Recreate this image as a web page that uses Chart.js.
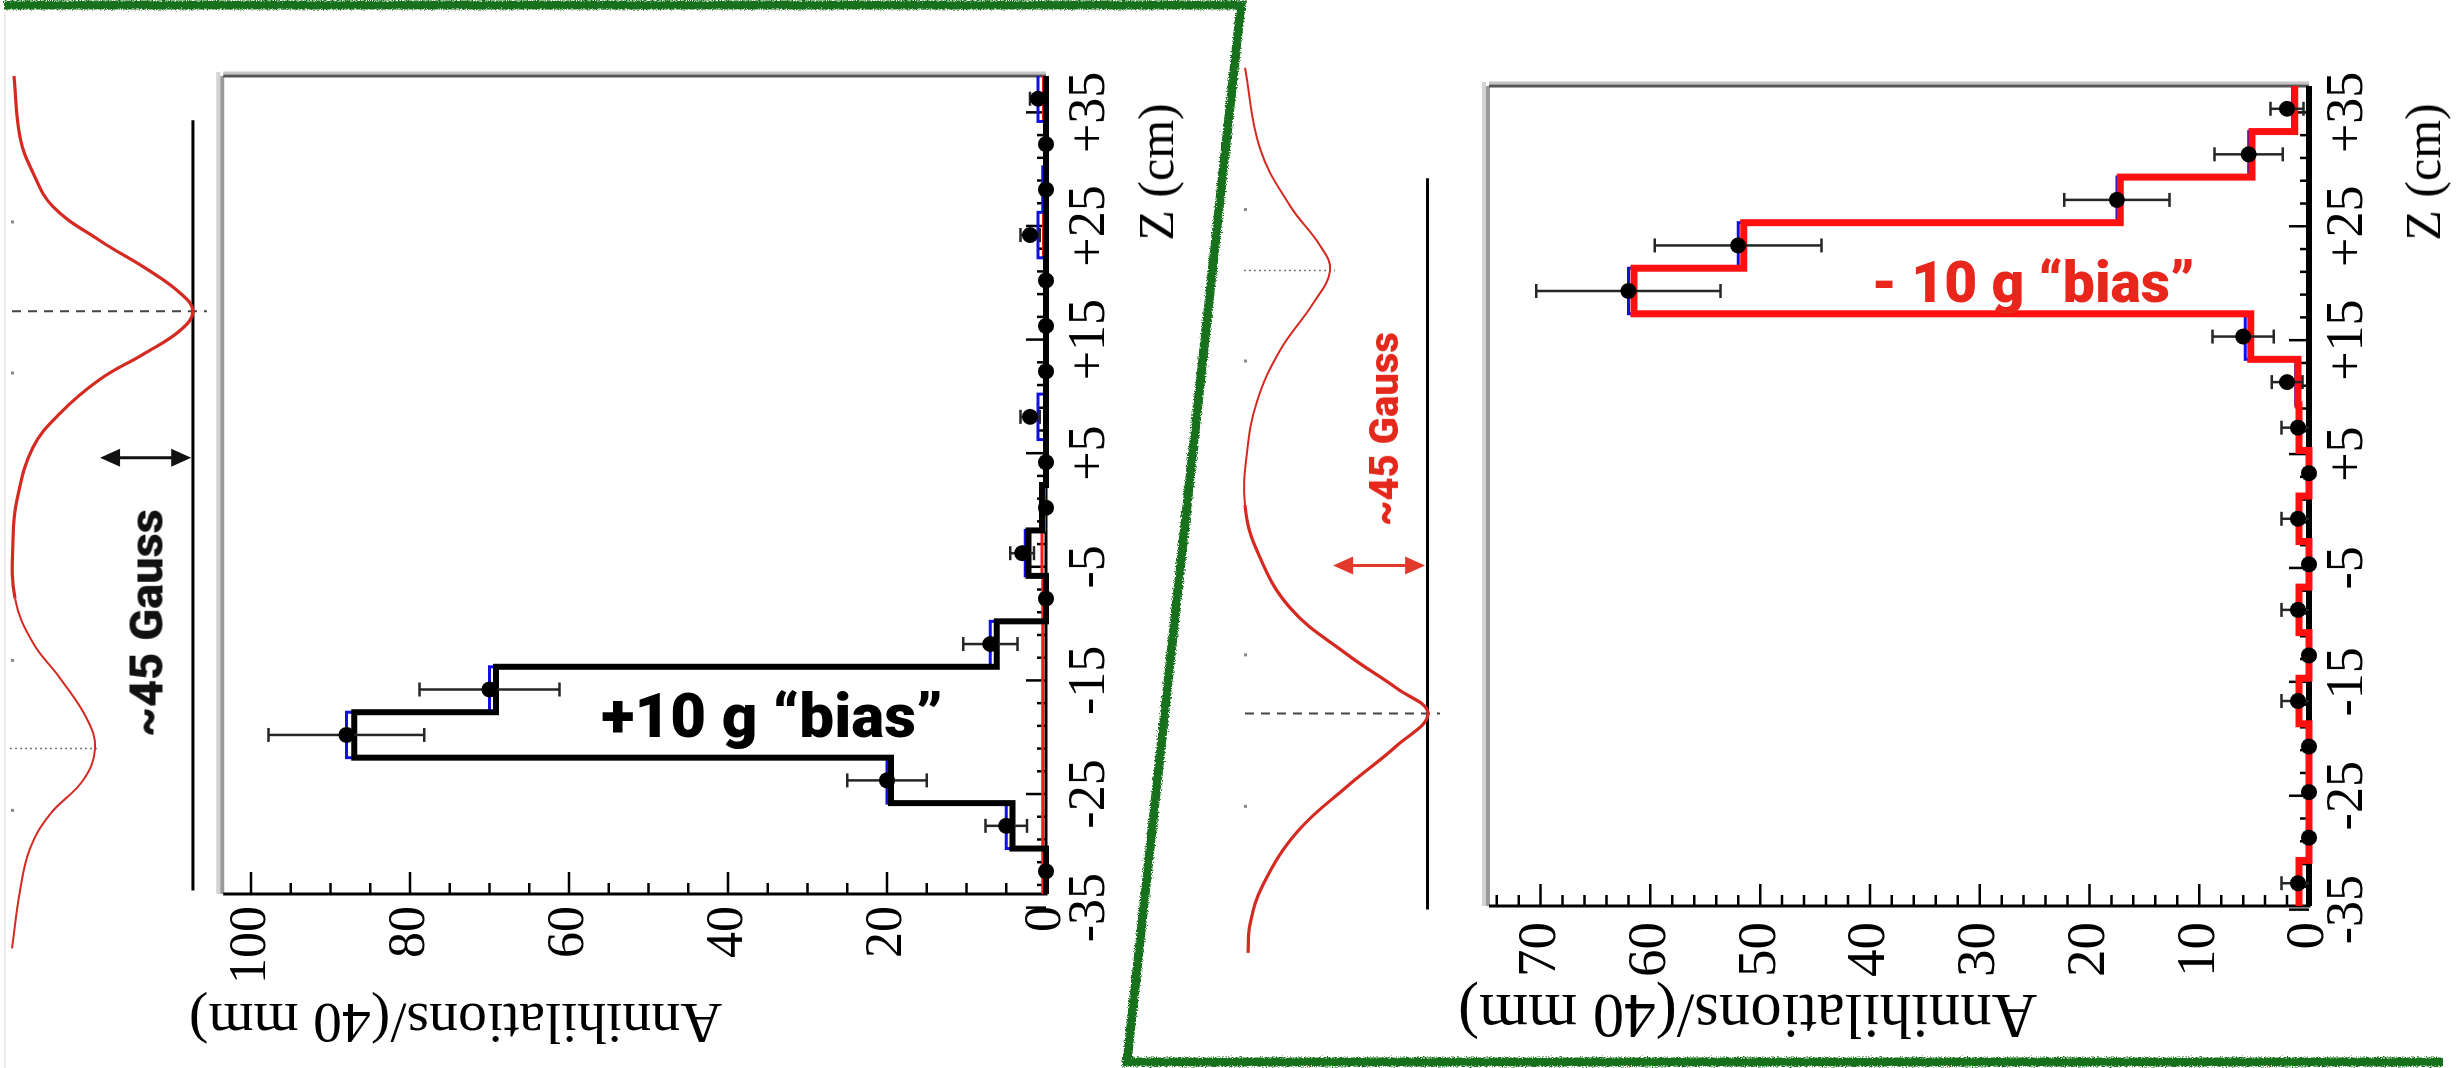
<!DOCTYPE html>
<html>
<head>
<meta charset="utf-8">
<title>Annihilation position vs. gravity bias</title>
<script src="https://cdn.jsdelivr.net/npm/chart.js@4.4.1/dist/chart.umd.min.js"></script>
<style>
  html, body { margin: 0; padding: 0; background: #fff; }
  body { width: 2464px; height: 1068px; position: relative; overflow: hidden; }
  .box { position: absolute; }
  .rot { transform: rotate(-90deg); transform-origin: 50% 50%; }
  .note { position: absolute; white-space: nowrap; line-height: 1;
          font-family: Roboto, "Liberation Sans", sans-serif; font-weight: 900; }
  .ztitle { position: absolute; white-space: nowrap; line-height: 1;
            font-family: "Liberation Serif", "Times New Roman", serif; font-size: 50px; color: #000;
            transform: translate(-50%, -50%) rotate(-90deg); }
</style>
</head>
<body>

<!-- panel outline -->
<svg width="2464" height="1068" style="position:absolute;left:0;top:0">
  <defs>
    <filter id="rough" x="-5%" y="-5%" width="110%" height="110%">
      <feTurbulence type="fractalNoise" baseFrequency="0.8" numOctaves="2" seed="3" result="n"/>
      <feDisplacementMap in="SourceGraphic" in2="n" scale="5" xChannelSelector="R" yChannelSelector="G"/>
    </filter>
  </defs>
  <line x1="5" y1="12" x2="5" y2="1068" stroke="#e4e4e4" stroke-width="1.5"/>
  <polyline points="4,5 1241,5 1127,1062 2443,1062" fill="none" stroke="#16701a"
            stroke-width="9" stroke-linejoin="miter" filter="url(#rough)"/>
</svg>

<!-- field profiles -->
<div class="box" style="left:0;top:40px;width:230px;height:940px"><canvas id="fieldPlus" width="230" height="940"></canvas></div>
<div class="box" style="left:1225px;top:40px;width:230px;height:940px"><canvas id="fieldMinus" width="230" height="940"></canvas></div>

<!-- histograms, drawn upright and turned a quarter turn -->
<div class="box rot" style="left:181px;top:19px;width:1048px;height:1050px"><canvas id="histPlus" width="1048" height="1050"></canvas></div>
<div class="box rot" style="left:1428px;top:32px;width:1048px;height:1024px"><canvas id="histMinus" width="1048" height="1024"></canvas></div>

<div class="note" style="left:146px;top:623px;font-size:47px;color:#111;transform:translate(-50%,-50%) rotate(-90deg)">~45 Gauss</div>
<div class="note" style="left:1385px;top:429px;font-size:40px;color:#e5281c;transform:translate(-50%,-50%) rotate(-90deg)">~45 Gauss</div>
<div class="note" style="left:772px;top:716px;font-size:62px;color:#000;transform:translate(-50%,-50%)">+10 g “bias”</div>
<div class="note" style="left:2033px;top:282px;font-size:57px;color:#e8261c;transform:translate(-50%,-50%)">- 10 g “bias”</div>
<div class="ztitle" style="left:1156px;top:172px">Z (cm)</div>
<div class="ztitle" style="left:2423px;top:172px">Z (cm)</div>

<script>
// ---- binning along Z (cm): 40 mm bins ----
const zBinCenters = [-34, -30, -26, -22, -18, -14, -10, -6, -2, 2, 6, 10, 14, 18, 22, 26, 30, 34];
const BIN_HALF = 2;

// ---- +10 g bias ----
const plusCounts = [0, 5, 20, 88, 70, 7, 0, 3, 0, 0, 2, 0, 0, 0, 2, 0, 0, 1];
const plusErrors = [0, 2.6, 5, 9.8, 8.8, 3.4, 0, 1.5, 0, 0, 1.2, 0, 0, 0, 1.2, 0, 0, 1];
const plusBlack  = [0, 4.2, 19.5, 87, 69.2, 6.2, 0, 2.2, 0.5, 0, 0, 0, 0, 0, 0, 0, 0, 0];
const plusBlue   = [0, 5, 20, 88, 70, 7, 0, 2.6, 0.6, 0, 1, 0, 0, 0, 1, 0.4, 0, 1];
const plusRed    = [0.4, 0.4, 0.4, 0.4, 0.4, 0.4, 0.4, 0.5, 0.2, 0, 0, 0, 0, 0, 0.3, 0, 0, 0.3];

// ---- -10 g bias ----
const minusCounts = [1, 0, 0, 0, 1, 0, 1, 0, 1, 0, 1, 2, 6, 62, 52, 17.5, 5.5, 2];
const minusErrors = [1.5, 0, 0, 0, 1.5, 0, 1.5, 0, 1.5, 0, 1.5, 1.4, 2.8, 8.4, 7.6, 4.8, 3.1, 1.5];
const minusRed    = [0.9, 0, 0, 0, 0.9, 0, 0.9, 0, 0.9, 0, 0.9, 1.0, 5.3, 61.5, 51.5, 17.2, 5.2, 1.3];
const minusBlue   = [1, 0, 0, 0, 1, 0, 1, 0, 1, 0, 1, 1.2, 5.8, 62, 52, 17.5, 5.5, 1.5];
const minusBlack  = [0, 0, 0, 0, 0, 0, 0, 0, 0, 0, 0, 0, 0, 0, 0, 0, 0, 0];

// ---- axis ticks ----
const zTickValues = [-35, -25, -15, -5, 5, 15, 25, 35];
const zTickLabels = ['-35', '-25', '-15', '-5', '+5', '+15', '+25', '+35'];
const plusCountTicks = [0, 20, 40, 60, 80, 100];
const minusCountTicks = [0, 10, 20, 30, 40, 50, 60, 70];

// ---- on-axis field profile: Z (cm) and field (G) ----
const fieldPlusZ  = [36.0, 30.6, 27.5, 24.5, 21.5, 19.0, 16.9, 15.3, 13.6, 11.5, 9.3, 6.3, 3.3, -1.3, -4.6, -10.0, -13.9, -17.0, -20.6, -23.2, -26.0, -29.0, -32.0, -35.7, -40.8];
const fieldPlusB  = [0.9, 3.7, 9.6, 18.8, 40.4, 61.9, 77.1, 83.0, 77.1, 60.1, 40.4, 22.0, 9.6, 2.3, 0.5, 1.4, 9.6, 22.0, 34.4, 38.1, 32.6, 17.4, 8.3, 3.7, 0];
const fieldMinusZ = [37.6, 30.5, 25.5, 22.0, 19.8, 16.9, 12.8, 8.3, 3.8, -0.8, -4.8, -9.8, -13.9, -16.9, -19.1, -21.9, -25.5, -29.5, -34.1, -37.6, -40.1];
const fieldMinusB = [0, 6.9, 20.6, 34.4, 39.0, 31.2, 16.1, 5.5, 0.9, 0, 5.5, 20.6, 46.8, 69.7, 83.9, 69.7, 46.8, 23.9, 8.3, 2.3, 1.4];

const COUNT_TITLE = 'Annihilations/(40 mm)';

// ---------------------------------------------------------------------------
const SERIF = "'Liberation Serif', 'Times New Roman', serif";

// histogram outline: each bin's value is held from its left edge to its right edge
function stepPoints(values) {
  const pts = values.map((v, i) => ({ x: zBinCenters[i] - BIN_HALF, y: v }));
  pts.push({ x: zBinCenters[zBinCenters.length - 1] + BIN_HALF, y: values[values.length - 1] });
  return pts;
}
function histDataset(values, color, width) {
  return { data: stepPoints(values), borderColor: color, borderWidth: width, stepped: 'before',
           pointRadius: 0, fill: false, tension: 0, clip: 8 };
}
function markerDataset(values, errors) {
  return { data: values.map((v, i) => ({ x: zBinCenters[i], y: v })), errors,
           showLine: false, pointRadius: 8, pointBackgroundColor: '#000', pointBorderWidth: 0, clip: 14 };
}

// frame, axis lines and inward tick marks
const histFrame = {
  id: 'histFrame',
  beforeDatasetsDraw(chart, args, o) {
    const { ctx, chartArea: a, scales: { x, y } } = chart;
    ctx.save();
    ctx.lineCap = 'butt';
    // far sides of the frame
    ctx.strokeStyle = '#d4d4d4'; ctx.lineWidth = 4;
    ctx.beginPath(); ctx.moveTo(a.left, a.top - 5); ctx.lineTo(a.right + 4, a.top - 5); ctx.stroke();
    ctx.strokeStyle = '#c4c4c4'; ctx.lineWidth = 3;
    ctx.beginPath(); ctx.moveTo(a.right + 3, a.top); ctx.lineTo(a.right + 3, a.bottom); ctx.stroke();
    ctx.strokeStyle = '#9a9a9a'; ctx.lineWidth = 4;
    ctx.beginPath(); ctx.moveTo(a.left, a.top - 1); ctx.lineTo(a.right, a.top - 1); ctx.stroke();
    ctx.strokeStyle = '#555'; ctx.lineWidth = 3;
    ctx.beginPath(); ctx.moveTo(a.right, a.top); ctx.lineTo(a.right, a.bottom); ctx.stroke();

    ctx.strokeStyle = '#000'; ctx.lineWidth = 2.5;
    ctx.beginPath();
    // count axis ticks
    const nMinor = Math.floor(y.max / o.minorY);
    for (let k = 0; k <= nMinor; k++) {
      const v = k * o.minorY;
      const p = y.getPixelForValue(v);
      const major = v % o.majorY === 0;
      ctx.moveTo(a.left, p); ctx.lineTo(a.left + (major ? 22 : 11), p);
    }
    // Z axis ticks
    for (let z = -35; z <= 35; z += 2) {
      const p = x.getPixelForValue(z) + o.zShift;
      const major = (z + 35) % 10 === 0;
      ctx.moveTo(p, a.bottom); ctx.lineTo(p, a.bottom - (major ? 20 : 9));
    }
    ctx.stroke();
    // axis lines
    ctx.lineWidth = 3;
    ctx.beginPath();
    ctx.moveTo(a.left, a.top); ctx.lineTo(a.left, a.bottom); ctx.lineTo(a.right, a.bottom);
    ctx.stroke();
    ctx.restore();
  },
  // count-axis title, end of the text placed at a fixed point beside the frame
  afterDraw(chart, args, o) {
    const { ctx } = chart;
    ctx.save();
    ctx.translate(o.titleU, o.titleV);
    ctx.rotate(-Math.PI / 2);
    ctx.font = `${o.titleSize}px ${SERIF}`;
    ctx.fillStyle = '#000';
    ctx.textAlign = 'right';
    ctx.textBaseline = 'middle';
    ctx.fillText(COUNT_TITLE, 0, 0);
    ctx.restore();
  }
};

// count error bars, drawn just below the markers
const errorBars = {
  id: 'errorBars',
  beforeDatasetDraw(chart, args) {
    const ds = chart.data.datasets[args.index];
    if (!ds.errors) return;
    const { ctx, scales: { x, y } } = chart;
    ctx.save();
    ctx.strokeStyle = '#262626'; ctx.lineWidth = 2.5;
    ds.data.forEach((p, i) => {
      const e = ds.errors[i];
      if (!e) return;
      const px = x.getPixelForValue(p.x);
      const lo = y.getPixelForValue(Math.max(0, p.y - e));
      const hi = y.getPixelForValue(p.y + e);
      ctx.beginPath();
      ctx.moveTo(px, lo); ctx.lineTo(px, hi);
      ctx.moveTo(px - 7, hi); ctx.lineTo(px + 7, hi);
      if (p.y - e > 0) { ctx.moveTo(px - 7, lo); ctx.lineTo(px + 7, lo); }
      ctx.stroke();
    });
    ctx.restore();
  }
};

function makeHist(id, cfg) {
  return new Chart(document.getElementById(id), {
    type: 'line',
    data: { datasets: cfg.datasets },
    options: {
      responsive: false, animation: false, devicePixelRatio: 1, events: [],
      layout: { padding: { top: cfg.padTop, right: cfg.padRight, left: 0, bottom: 0 } },
      plugins: { legend: { display: false }, tooltip: { enabled: false },
                 histFrame: { minorY: cfg.minorY, majorY: cfg.majorY, zShift: cfg.zShift,
                              titleU: cfg.titleU, titleV: cfg.titleV, titleSize: cfg.titleFont } },
      scales: {
        x: {
          type: 'linear', min: -36, max: 36,
          grid: { display: false, drawTicks: false }, border: { display: false },
          afterBuildTicks: s => { s.ticks = zTickValues.map(v => ({ value: v })); },
          afterFit: s => { s.height = cfg.xAxisHeight; },
          ticks: { autoSkip: false, maxRotation: 0, minRotation: 0, padding: cfg.zPad,
                   labelOffset: cfg.zShift, color: '#000', font: { family: SERIF, size: 52 },
                   callback: (v, i) => zTickLabels[i] }
        },
        y: {
          type: 'linear', min: 0, max: cfg.yMax,
          grid: { display: false, drawTicks: false }, border: { display: false },
          afterBuildTicks: s => { s.ticks = cfg.yTicks.map(v => ({ value: v })); },
          afterFit: s => { s.width = cfg.yAxisWidth; },
          ticks: { padding: cfg.yPad, color: '#000', font: { family: SERIF, size: cfg.yFont },
                   callback: v => String(v) }
        }
      }
    },
    plugins: [histFrame, errorBars]
  });
}

makeHist('histPlus', {
  datasets: [markerDataset(plusCounts, plusErrors),
             histDataset(plusBlack, '#000', 6),
             histDataset(plusBlue, '#1010e0', 3),
             histDataset(plusRed, '#ff1a1a', 3)],
  padTop: 30, padRight: 56, xAxisHeight: 184, yAxisWidth: 174,
  yMax: 103.5, yTicks: plusCountTicks, minorY: 5, majorY: 20,
  zShift: -25, zPad: 13, yPad: 12, yFont: 52,
  titleFont: 58, titleU: 49, titleV: 9
});

makeHist('histMinus', {
  datasets: [markerDataset(minusCounts, minusErrors),
             histDataset(minusRed, '#ff1010', 7),
             histDataset(minusBlue, '#1010e0', 3),
             histDataset(minusBlack, '#000', 6)],
  padTop: 33, padRight: 66, xAxisHeight: 155, yAxisWidth: 162,
  yMax: 74.7, yTicks: minusCountTicks, minorY: 2, majorY: 10,
  zShift: -15, zPad: 8, yPad: 16, yFont: 55,
  titleFont: 63, titleU: 56, titleV: 18
});

// ---- field profile panels ----
function doubleArrow(ctx, x0, x1, yy, color) {
  const L = 20, h = 9;
  ctx.save();
  ctx.strokeStyle = color; ctx.fillStyle = color; ctx.lineWidth = 3;
  ctx.beginPath(); ctx.moveTo(x0 + L * 0.8, yy); ctx.lineTo(x1 - L * 0.8, yy); ctx.stroke();
  ctx.beginPath(); ctx.moveTo(x0, yy); ctx.lineTo(x0 + L, yy - h); ctx.lineTo(x0 + L, yy + h); ctx.closePath(); ctx.fill();
  ctx.beginPath(); ctx.moveTo(x1, yy); ctx.lineTo(x1 - L, yy - h); ctx.lineTo(x1 - L, yy + h); ctx.closePath(); ctx.fill();
  ctx.restore();
}

const fieldMarks = {
  id: 'fieldMarks',
  beforeDatasetsDraw(chart, args, o) {
    const { ctx, scales: { x, y } } = chart;
    const X = b => x.getPixelForValue(b), Y = z => y.getPixelForValue(z);
    ctx.save();
    ctx.strokeStyle = '#000'; ctx.lineWidth = 3;
    ctx.beginPath(); ctx.moveTo(X(o.refLine.b), Y(o.refLine.z0)); ctx.lineTo(X(o.refLine.b), Y(o.refLine.z1)); ctx.stroke();

    ctx.setLineDash([9, 7]); ctx.strokeStyle = '#444'; ctx.lineWidth = 2;
    ctx.beginPath(); ctx.moveTo(X(o.dash.b0), Y(o.dash.z)); ctx.lineTo(X(o.dash.b1), Y(o.dash.z)); ctx.stroke();

    ctx.setLineDash([2, 3]); ctx.strokeStyle = '#777'; ctx.lineWidth = 1.5;
    ctx.beginPath(); ctx.moveTo(X(o.dot.b0), Y(o.dot.z)); ctx.lineTo(X(o.dot.b1), Y(o.dot.z)); ctx.stroke();

    ctx.setLineDash([]);
    ctx.fillStyle = '#888';
    o.ticks.forEach(z => ctx.fillRect(X(0) - 1, Y(z) - 1, 3, 3));
    doubleArrow(ctx, X(o.arrow.b0), X(o.arrow.b1), Y(o.arrow.z), o.arrow.color);
    ctx.restore();
  }
};

function makeField(id, zs, bs, cfg) {
  return new Chart(document.getElementById(id), {
    type: 'scatter',
    data: { datasets: [{
      data: zs.map((z, i) => ({ x: bs[i], y: z })),
      showLine: true, borderColor: '#d42a22', borderWidth: 2.5, pointRadius: 0,
      tension: 0.4, clip: false,
      segment: { borderWidth: s => ((s.p0.parsed.y > cfg.split) === cfg.upperThick ? 3.2 : 2) }
    }] },
    options: {
      responsive: false, animation: false, devicePixelRatio: 1, events: [],
      layout: { padding: 0 },
      plugins: { legend: { display: false }, tooltip: { enabled: false }, fieldMarks: cfg.marks },
      scales: {
        x: { type: 'linear', display: false, min: cfg.bRange[0], max: cfg.bRange[1] },
        y: { type: 'linear', display: false, min: cfg.zRange[0], max: cfg.zRange[1] }
      }
    },
    plugins: [fieldMarks]
  });
}

makeField('fieldPlus', fieldPlusZ, fieldPlusB, {
  bRange: [-5.5, 100], zRange: [-43.58, 39.17], split: -5, upperThick: true,
  marks: {
    refLine: { b: 83.0, z0: 32.1, z1: -35.7 },
    dash: { z: 15.3, b0: 0, b1: 89.4 },
    dot: { z: -23.2, b0: -0.9, b1: 40.4 },
    arrow: { z: 2.4, b0: 40.4, b1: 82.2, color: '#111' },
    ticks: [23.2, 9.9, -15.4, -28.6]
  }
});

makeField('fieldMinus', fieldMinusZ, fieldMinusB, {
  bRange: [-9.17, 96.3], zRange: [-42.49, 40.04], split: 0, upperThick: false,
  marks: {
    refLine: { b: 83.7, z0: 27.9, z1: -36.3 },
    dash: { z: -19.1, b0: 0, b1: 89.4 },
    dot: { z: 19.8, b0: -0.5, b1: 41.3 },
    arrow: { z: -6.1, b0: 40.4, b1: 82.6, color: '#e23a2a' },
    ticks: [25.2, 11.9, -13.9, -27.2]
  }
});
</script>
</body>
</html>
